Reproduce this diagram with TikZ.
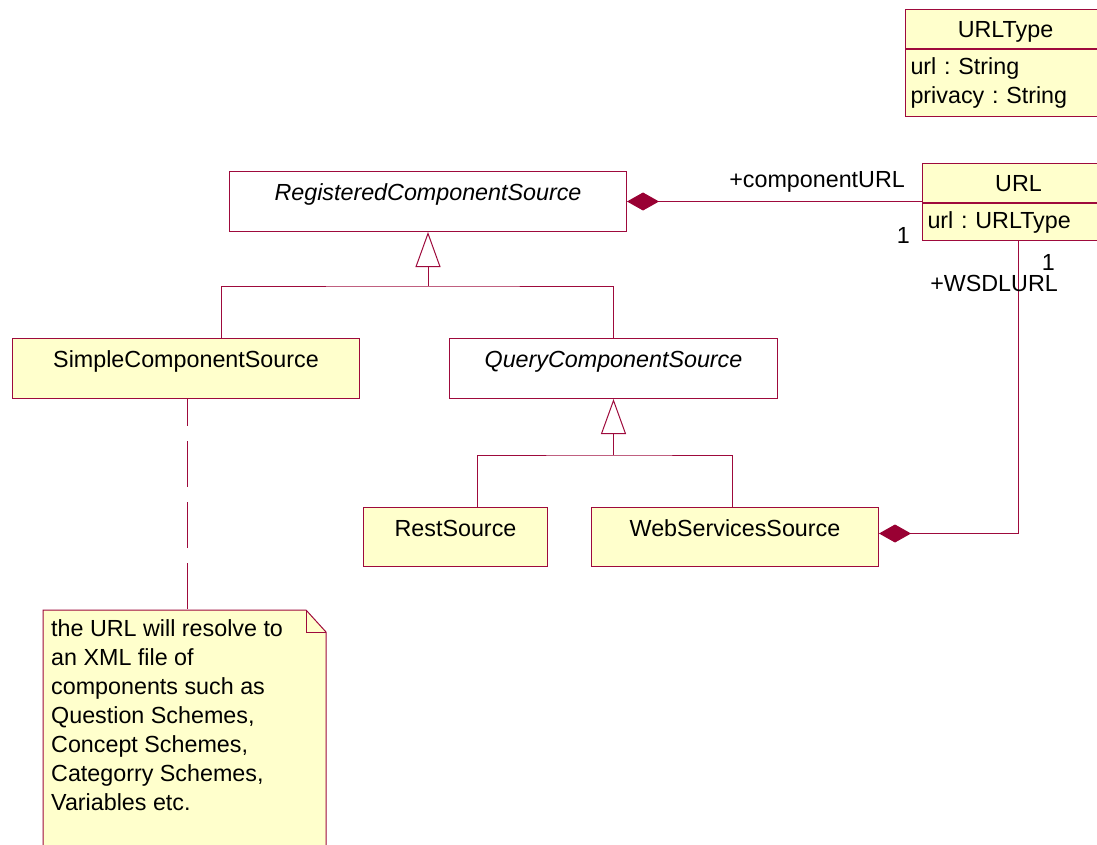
\documentclass[tikz,border=0pt]{standalone}
\usepackage{fontspec}
\setmainfont{Liberation Sans}
\usetikzlibrary{positioning,arrows.meta}
\frenchspacing

\definecolor{umlline}{RGB}{158,10,60}
\definecolor{umlfill}{RGB}{255,255,204}
\definecolor{umlhead}{RGB}{153,0,51}

\tikzset{
  classbox/.style={draw=umlline, line width=1pt, anchor=north west, inner xsep=0pt, inner ysep=0pt,
    font=\fontsize{23.3}{29}\selectfont, text height=29pt, text depth=31pt},
  concrete/.style={classbox, fill=umlfill},
  abstract/.style={classbox, fill=white, font=\fontsize{23.3}{29}\selectfont\itshape},
  headpart/.style={concrete, text height=28.5pt, text depth=10.5pt},
  attrpart/.style={draw=umlline, line width=1pt, fill=umlfill, inner xsep=5pt, inner ysep=0pt,
    font=\fontsize{23.3}{29}\selectfont, align=left},
  rolelabel/.style={font=\fontsize{23.3}{29}\selectfont, inner sep=0pt},
  comp/.style={draw=umlline, line width=1pt, {Diamond[length=32pt,width=18pt,fill=umlhead,color=umlhead]}-},
  inherit/.style={draw=umlline, line width=1pt, -{Triangle[open,length=35pt,width=25pt,fill=white]}},
  tree/.style={draw=umlline, line width=1pt},
  notelink/.style={draw=umlline, line width=1pt, dash pattern=on 46pt off 15pt, dash phase=19pt}
}

\begin{document}
\begin{tikzpicture}[x=1pt,y=-1pt]
  \useasboundingbox (0,0) rectangle (1097,845);
  \clip (0,0) rectangle (1097,845);

  % classes
  \node[abstract, minimum width=397pt] (reg) at (229,171) {RegisteredComponentSource};
  \node[concrete, minimum width=347pt] (simple) at (12,338) {SimpleComponentSource};
  \node[abstract, minimum width=328pt] (query) at (449,338) {QueryComponentSource};
  \node[concrete, minimum width=184pt, text depth=30pt] (rest) at (363,507) {RestSource};
  \node[concrete, minimum width=287pt, text depth=30pt] (web) at (591,507) {WebServicesSource};

  % URL and URLType
  \node[headpart, minimum width=192pt] (url) at (922,163) {URL};
  \node[attrpart, minimum width=192pt, minimum height=37pt, text width=182pt,
        below right=0pt of url.south west] (urlattr) {url : URLType};
  \node[headpart, minimum width=200pt] (urltype) at (905,9) {URLType};
  \node[attrpart, minimum width=200pt, minimum height=67pt, text width=190pt,
        below right=0pt of urltype.south west] (urltypeattr) {url : String\\privacy : String};

  % note
  \coordinate (notetl) at (43,610);
  \fill[umlfill] (notetl) -- (306,610) -- (326,632) -- (326,850) -- (43,850) -- cycle;
  \draw[umlline, line width=1pt] (43,850) -- (notetl) -- (306,610) -- (326,632) -- (326,850);
  \draw[umlline, line width=1pt] (306,610) -- (306,632) -- (326,632);
  \node[anchor=north west, inner sep=0pt, align=left, font=\fontsize{23.3}{29}\selectfont] (note)
    at (51,619.5) {the URL will resolve to\\an XML file of\\components such as\\Question Schemes,\\Concept Schemes,\\Categorry Schemes,\\Variables etc.};

  % generalisations
  \draw[tree] ([xshift=35.5pt]simple.north) |- ([yshift=-54pt]reg.south) -| (query.north);
  \draw[inherit] ([yshift=-54pt]reg.south) -- (reg.south);
  \draw[tree] ([xshift=22pt]rest.north) |- ([yshift=-56pt]query.south) -| ([xshift=-2.5pt]web.north);
  \draw[inherit] ([yshift=-56pt]query.south) -- (query.south);

  % compositions
  \draw[comp] (reg.east) -- (reg.east -| url.west);
  \draw[comp] ([yshift=3.5pt]web.east) -| (urlattr.south);
  \node[rolelabel, anchor=base east] (compname) at (905,187.5) {+componentURL};
  \node[rolelabel, anchor=base east] (compmult) at (910,243) {1};
  \node[rolelabel, anchor=base east] (wsdlmult) at (1055,270) {1};
  \node[rolelabel, anchor=base east] (wsdlname) at (1058,291) {+WSDLURL};

  % note link
  \draw[notelink] ([xshift=1.5pt]simple.south) -- ([xshift=1.5pt]simple.south |- notetl);
\end{tikzpicture}
\end{document}
